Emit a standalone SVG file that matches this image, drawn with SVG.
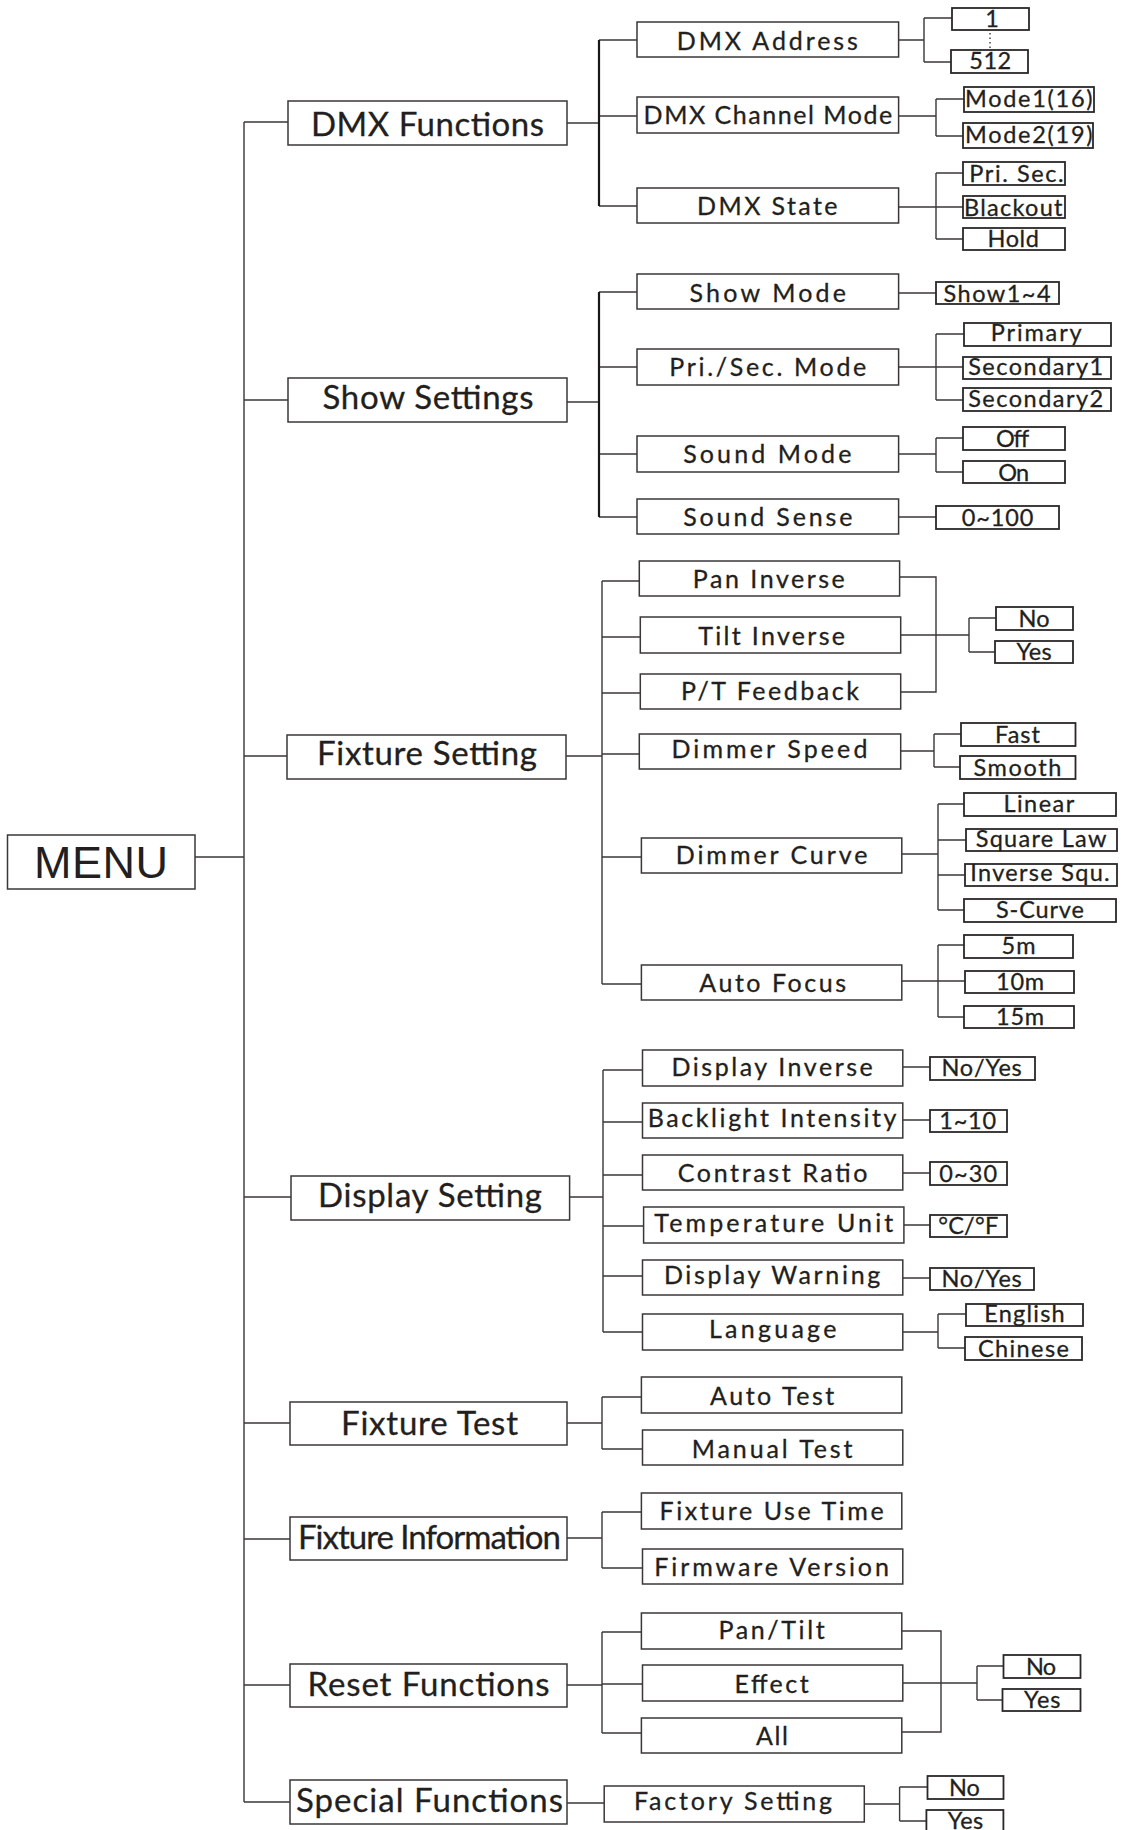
<svg xmlns="http://www.w3.org/2000/svg" width="1121" height="1830" viewBox="0 0 1121 1830">
<style>
rect{fill:#fff;stroke:#3b3738;stroke-width:1.5}
rect.s{stroke-width:1.8;stroke:#2b2728}
text{fill:#231f20;stroke:#231f20;stroke-width:0.3;font-family:Lato,"Open Sans","Liberation Sans",sans-serif}
.t1{font-size:33px}
.t2{font-size:25px}
.t3{font-size:23.5px}
.menu{font-family:"Liberation Sans",Arial,sans-serif;font-size:45px;stroke-width:0}
#connectors path{fill:none;stroke:#3b3738;stroke-width:1.4}
#connectors path.bar{stroke:#1a1718;stroke-width:2.2}
#connectors path.dot{stroke:#3b3738;stroke-width:1.4;stroke-dasharray:1.5 3}
</style>
<rect x="0" y="0" width="1121" height="1830" style="fill:#fff;stroke:none"/>
<g id="connectors">
<path d="M244,122V1802M244,122H288M244,400H288M195,857H244M244,756H287M244,1197H291M244,1423H290M244,1539H290M244,1685H290M244,1802H290"/>
<path d="M567,123H599M599,40H637M599,116H637M599,206H637"/>
<path class="bar" d="M599,40V206"/>
<path d="M898.6,40H924M924,18V62M924,18H952M924,62H951"/>
<path class="dot" d="M990,33V48"/>
<path d="M898.6,116H936M936,99V136M936,99H964M936,136H963"/>
<path d="M898.6,207H963M936,173V239M936,173H963M936,239H963"/>
<path d="M567,402H599M599,292H637M599,367H637M599,454H637M599,517H637"/>
<path class="bar" d="M599,292V517"/>
<path d="M898.6,293H936M898.6,367H963M936,334V400M936,334H964M936,400H963"/>
<path d="M898.6,454H936M936,438V472M936,438H963M936,472H963M898.6,517H936"/>
<path d="M566,756H602M602,581V984M602,581H639M602,637H640M602,693H640M602,754H639M602,857H641M602,984H641"/>
<path d="M899.6,577H936V692H900.7M900.7,635H969M969,618V652M969,618H996M969,652H995"/>
<path d="M900.7,751H934M934,734V767M934,734H961M934,767H960"/>
<path d="M901.8,854H938M938,804V910M938,804H964M938,840H966M938,875H965M938,910H964"/>
<path d="M901.8,981H938M938,945V1017M938,945H964M938,981H965M938,1017H964"/>
<path d="M569.6,1197H603M603,1070V1332M603,1070H642.5M603,1122H642.5M603,1175H642.5M603,1226H643.6M603,1276H642.5M603,1332H642.5"/>
<path d="M902.8,1067H930M902.8,1120H930M902.8,1173H930M903.9,1225H930M902.8,1278H930"/>
<path d="M902.8,1332H938M938,1314V1348M938,1314H966M938,1348H965"/>
<path d="M567,1423H602M602,1397V1449M602,1397H641.4M602,1449H642.5"/>
<path d="M567,1538H602M602,1512V1568M602,1512H641.4M602,1568H642.5"/>
<path d="M567,1685H602M602,1632V1733M602,1632H641.4M602,1684H642.5M602,1733H641.4"/>
<path d="M901.8,1631H941V1732H901.8M902.8,1683H977M977,1666V1700M977,1666H1003.5M977,1700H1002.5"/>
<path d="M567,1803H604M864.3,1804H899.6M899.6,1787V1821M899.6,1787H927.5M899.6,1821H926.4"/>
</g>

<g id="menu"><rect x="7.5" y="835" width="187.5" height="54"/><text class="menu" x="34" y="878" textLength="134" lengthAdjust="spacing">MENU</text></g>

<g id="dmx-functions"><rect x="288" y="101" width="279" height="44"/><text class="t1" x="311" y="136" textLength="233" lengthAdjust="spacing">DMX Functions</text></g>
<g id="show-settings"><rect x="288" y="378" width="279" height="44"/><text class="t1" x="322.5" y="409" textLength="211" lengthAdjust="spacing">Show Settings</text></g>
<g id="fixture-setting"><rect x="287" y="735" width="279" height="44"/><text class="t1" x="317" y="765" textLength="220" lengthAdjust="spacing">Fixture Setting</text></g>
<g id="display-setting"><rect x="291" y="1176" width="278.6" height="44"/><text class="t1" x="318" y="1207" textLength="224" lengthAdjust="spacing">Display Setting</text></g>
<g id="fixture-test"><rect x="290" y="1402" width="277" height="43"/><text class="t1" x="341" y="1435" textLength="177" lengthAdjust="spacing">Fixture Test</text></g>
<g id="fixture-information"><rect x="290" y="1517" width="277" height="43"/><text class="t1" x="298" y="1549" textLength="263" lengthAdjust="spacing">Fixture Information</text></g>
<g id="reset-functions"><rect x="290" y="1664" width="277" height="43"/><text class="t1" x="307.5" y="1696" textLength="242" lengthAdjust="spacing">Reset Functions</text></g>
<g id="special-functions"><rect x="290" y="1780" width="277" height="44"/><text class="t1" x="296" y="1812" textLength="267" lengthAdjust="spacing">Special Functions</text></g>

<g id="dmx-address"><rect x="637" y="22" width="261.6" height="35"/><text class="t2" x="676.8" y="50" textLength="181" lengthAdjust="spacing">DMX Address</text></g>
<g id="dmx-channel-mode"><rect x="637" y="97" width="261.6" height="36"/><text class="t2" x="643.6" y="124" textLength="248.6" lengthAdjust="spacing">DMX Channel Mode</text></g>
<g id="dmx-state"><rect x="637" y="188" width="261.6" height="35"/><text class="t2" x="697.1" y="215" textLength="140.4" lengthAdjust="spacing">DMX State</text></g>
<g id="show-mode"><rect x="637" y="274" width="261.6" height="35"/><text class="t2" x="689.6" y="302" textLength="156.4" lengthAdjust="spacing">Show Mode</text></g>
<g id="pri-sec-mode"><rect x="637" y="349" width="261.6" height="36"/><text class="t2" x="669.3" y="376" textLength="197" lengthAdjust="spacing">Pri./Sec. Mode</text></g>
<g id="sound-mode"><rect x="637" y="436" width="261.6" height="36"/><text class="t2" x="683.2" y="463" textLength="168.2" lengthAdjust="spacing">Sound Mode</text></g>
<g id="sound-sense"><rect x="637" y="499" width="261.6" height="35"/><text class="t2" x="683.2" y="526" textLength="169.3" lengthAdjust="spacing">Sound Sense</text></g>
<g id="pan-inverse"><rect x="639.3" y="561" width="260.3" height="35"/><text class="t2" x="692.8" y="588" textLength="152" lengthAdjust="spacing">Pan Inverse</text></g>
<g id="tilt-inverse"><rect x="640.3" y="617" width="260.4" height="36"/><text class="t2" x="698.2" y="645" textLength="146.8" lengthAdjust="spacing">Tilt Inverse</text></g>
<g id="pt-feedback"><rect x="640.3" y="674" width="260.4" height="35"/><text class="t2" x="681" y="700" textLength="177.9" lengthAdjust="spacing">P/T Feedback</text></g>
<g id="dimmer-speed"><rect x="639.3" y="734" width="261.4" height="35"/><text class="t2" x="671.4" y="758" textLength="196" lengthAdjust="spacing">Dimmer Speed</text></g>
<g id="dimmer-curve"><rect x="641.4" y="838" width="260.4" height="35"/><text class="t2" x="675.7" y="864" textLength="191.8" lengthAdjust="spacing">Dimmer Curve</text></g>
<g id="auto-focus"><rect x="641.4" y="965" width="260.4" height="35"/><text class="t2" x="699.3" y="992" textLength="146.8" lengthAdjust="spacing">Auto Focus</text></g>
<g id="display-inverse"><rect x="642.5" y="1050" width="260.3" height="36"/><text class="t2" x="671.4" y="1076" textLength="201.4" lengthAdjust="spacing">Display Inverse</text></g>
<g id="backlight-intensity"><rect x="642.5" y="1103" width="260.3" height="35"/><text class="t2" x="647.8" y="1127" textLength="248.6" lengthAdjust="spacing">Backlight Intensity</text></g>
<g id="contrast-ratio"><rect x="642.5" y="1155" width="260.3" height="35"/><text class="t2" x="677.8" y="1182" textLength="189.6" lengthAdjust="spacing">Contrast Ratio</text></g>
<g id="temperature-unit"><rect x="643.6" y="1207" width="260.3" height="36"/><text class="t2" x="654.3" y="1232" textLength="239" lengthAdjust="spacing">Temperature Unit</text></g>
<g id="display-warning"><rect x="642.5" y="1260" width="260.3" height="35"/><text class="t2" x="663.9" y="1284" textLength="216.4" lengthAdjust="spacing">Display Warning</text></g>
<g id="language"><rect x="642.5" y="1314" width="260.3" height="36"/><text class="t2" x="708.9" y="1338" textLength="127.5" lengthAdjust="spacing">Language</text></g>
<g id="auto-test"><rect x="641.4" y="1377" width="260.4" height="36"/><text class="t2" x="710" y="1405" textLength="124.3" lengthAdjust="spacing">Auto Test</text></g>
<g id="manual-test"><rect x="642.5" y="1430" width="260.3" height="35"/><text class="t2" x="691.8" y="1458" textLength="160.7" lengthAdjust="spacing">Manual Test</text></g>
<g id="fixture-use-time"><rect x="641.4" y="1493" width="260.4" height="36"/><text class="t2" x="659.6" y="1520" textLength="224" lengthAdjust="spacing">Fixture Use Time</text></g>
<g id="firmware-version"><rect x="642.5" y="1549" width="260.3" height="35"/><text class="t2" x="654.3" y="1576" textLength="234.6" lengthAdjust="spacing">Firmware Version</text></g>
<g id="pan-tilt"><rect x="641.4" y="1613" width="260.4" height="36"/><text class="t2" x="718.6" y="1639" textLength="106" lengthAdjust="spacing">Pan/Tilt</text></g>
<g id="effect"><rect x="642.5" y="1665" width="260.3" height="36"/><text class="t2" x="734.6" y="1693" textLength="74" lengthAdjust="spacing">Effect</text></g>
<g id="all"><rect x="641.4" y="1718" width="260.4" height="35"/><text class="t2" x="756" y="1745" textLength="32" lengthAdjust="spacing">All</text></g>
<g id="factory-setting"><rect x="604.2" y="1786" width="260.1" height="36"/><text class="t2" x="633.9" y="1810" textLength="198.2" lengthAdjust="spacing">Factory Setting</text></g>

<g id="addr-1"><rect class="s" x="952" y="8" width="77" height="22"/><text class="t3" x="985.3" y="27" textLength="10.7" lengthAdjust="spacing">1</text></g>
<g id="addr-512"><rect class="s" x="951" y="50" width="77" height="23"/><text class="t3" x="969.3" y="69" textLength="41.8" lengthAdjust="spacing">512</text></g>
<g id="mode1"><rect class="s" x="964" y="87" width="130" height="25"/><text class="t3" x="965" y="107" textLength="127.5" lengthAdjust="spacing">Mode1(16)</text></g>
<g id="mode2"><rect class="s" x="963" y="123" width="130" height="25"/><text class="t3" x="965" y="143" textLength="127.5" lengthAdjust="spacing">Mode2(19)</text></g>
<g id="pri-sec"><rect class="s" x="963" y="162" width="102" height="23"/><text class="t3" x="969.3" y="182" textLength="94.3" lengthAdjust="spacing">Pri. Sec.</text></g>
<g id="blackout"><rect class="s" x="963" y="196" width="102" height="22"/><text class="t3" x="963.9" y="216" textLength="98.6" lengthAdjust="spacing">Blackout</text></g>
<g id="hold"><rect class="s" x="963" y="228" width="102" height="22"/><text class="t3" x="987.5" y="247" textLength="51.4" lengthAdjust="spacing">Hold</text></g>
<g id="show1-4"><rect class="s" x="936" y="282" width="123" height="22"/><text class="t3" x="943.6" y="302" textLength="107" lengthAdjust="spacing">Show1~4</text></g>
<g id="primary"><rect class="s" x="964" y="323" width="147" height="23"/><text class="t3" x="990.7" y="341" textLength="91" lengthAdjust="spacing">Primary</text></g>
<g id="secondary1"><rect class="s" x="963" y="357" width="148" height="22"/><text class="t3" x="968.2" y="375" textLength="135" lengthAdjust="spacing">Secondary1</text></g>
<g id="secondary2"><rect class="s" x="963" y="388" width="148" height="23"/><text class="t3" x="968.2" y="407" textLength="135" lengthAdjust="spacing">Secondary2</text></g>
<g id="off"><rect class="s" x="963" y="427" width="102" height="23"/><text class="t3" x="996" y="447" textLength="33.2" lengthAdjust="spacing">Off</text></g>
<g id="on"><rect class="s" x="963" y="461" width="102" height="22"/><text class="t3" x="998.2" y="481" textLength="31" lengthAdjust="spacing">On</text></g>
<g id="range-0-100"><rect class="s" x="936" y="506" width="123" height="23"/><text class="t3" x="961.7" y="526" textLength="71.8" lengthAdjust="spacing">0~100</text></g>
<g id="inverse-no"><rect class="s" x="996" y="607" width="77" height="23"/><text class="t3" x="1018.5" y="627" textLength="31" lengthAdjust="spacing">No</text></g>
<g id="inverse-yes"><rect class="s" x="995" y="641" width="78" height="22"/><text class="t3" x="1016.4" y="660" textLength="35.4" lengthAdjust="spacing">Yes</text></g>
<g id="fast"><rect class="s" x="961" y="723" width="114.5" height="23"/><text class="t3" x="995" y="743" textLength="45" lengthAdjust="spacing">Fast</text></g>
<g id="smooth"><rect class="s" x="960" y="756" width="115.5" height="23"/><text class="t3" x="973.5" y="776" textLength="87.9" lengthAdjust="spacing">Smooth</text></g>
<g id="linear"><rect class="s" x="964" y="793" width="152" height="23"/><text class="t3" x="1003.5" y="812" textLength="70.7" lengthAdjust="spacing">Linear</text></g>
<g id="square-law"><rect class="s" x="966" y="829" width="151" height="22"/><text class="t3" x="975.7" y="847" textLength="130.7" lengthAdjust="spacing">Square Law</text></g>
<g id="inverse-squ"><rect class="s" x="965" y="864" width="152" height="22"/><text class="t3" x="970.3" y="881" textLength="139.3" lengthAdjust="spacing">Inverse Squ.</text></g>
<g id="s-curve"><rect class="s" x="964" y="899" width="152" height="23"/><text class="t3" x="996" y="918" textLength="87.9" lengthAdjust="spacing">S-Curve</text></g>
<g id="focus-5m"><rect class="s" x="964" y="935" width="109" height="23"/><text class="t3" x="1001.4" y="954" textLength="34.3" lengthAdjust="spacing">5m</text></g>
<g id="focus-10m"><rect class="s" x="965" y="971" width="109" height="22"/><text class="t3" x="996" y="990" textLength="48.2" lengthAdjust="spacing">10m</text></g>
<g id="focus-15m"><rect class="s" x="964" y="1006" width="110" height="22"/><text class="t3" x="996" y="1025" textLength="48.2" lengthAdjust="spacing">15m</text></g>
<g id="display-inverse-val"><rect class="s" x="930" y="1057" width="105" height="23"/><text class="t3" x="941.4" y="1076" textLength="80.4" lengthAdjust="spacing">No/Yes</text></g>
<g id="backlight-val"><rect class="s" x="930" y="1110" width="77" height="22"/><text class="t3" x="939.3" y="1129" textLength="56.8" lengthAdjust="spacing">1~10</text></g>
<g id="contrast-val"><rect class="s" x="930" y="1162" width="77" height="23"/><text class="t3" x="939.3" y="1182" textLength="57.9" lengthAdjust="spacing">0~30</text></g>
<g id="temp-val"><rect class="s" x="930" y="1215" width="77" height="22"/><text class="t3" x="938.2" y="1234" textLength="60" lengthAdjust="spacing">°C/°F</text></g>
<g id="warning-val"><rect class="s" x="930" y="1268" width="104" height="22"/><text class="t3" x="941.4" y="1287" textLength="80.4" lengthAdjust="spacing">No/Yes</text></g>
<g id="english"><rect class="s" x="966" y="1304" width="117" height="22"/><text class="t3" x="984.3" y="1322" textLength="80.4" lengthAdjust="spacing">English</text></g>
<g id="chinese"><rect class="s" x="965" y="1337" width="117" height="23"/><text class="t3" x="977.9" y="1357" textLength="91" lengthAdjust="spacing">Chinese</text></g>
<g id="reset-no"><rect class="s" x="1003.5" y="1655" width="77" height="23"/><text class="t3" x="1026" y="1675" textLength="30" lengthAdjust="spacing">No</text></g>
<g id="reset-yes"><rect class="s" x="1002.5" y="1689" width="78" height="22"/><text class="t3" x="1024" y="1708" textLength="36.4" lengthAdjust="spacing">Yes</text></g>
<g id="factory-no"><rect class="s" x="927.5" y="1776" width="76" height="23"/><text class="t3" x="948.9" y="1796" textLength="31" lengthAdjust="spacing">No</text></g>
<g id="factory-yes"><rect class="s" x="926.4" y="1810" width="77" height="24"/><text class="t3" x="947.8" y="1829" textLength="35.4" lengthAdjust="spacing">Yes</text></g>
</svg>
